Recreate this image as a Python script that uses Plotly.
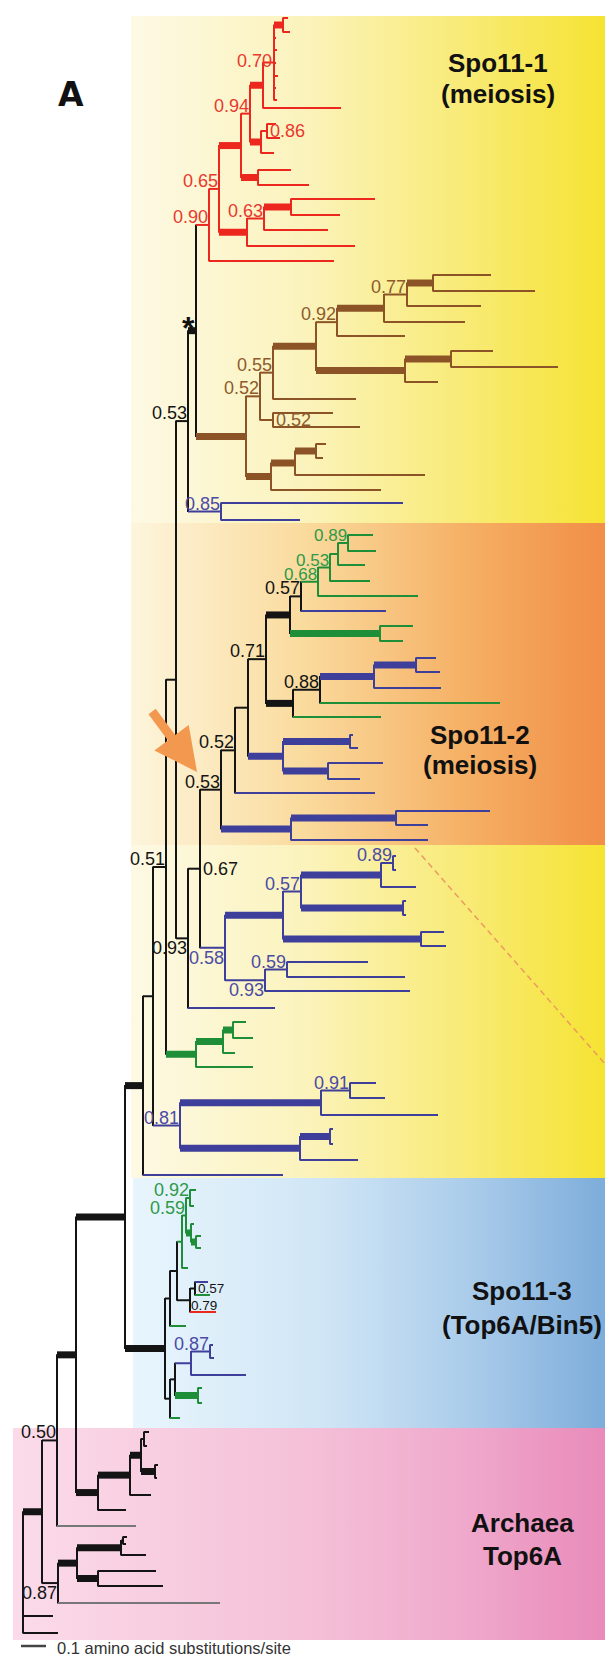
import plotly.graph_objects as go

# ---------------------------------------------------------------------------
# DATA: tree topology, branch lengths (amino acid substitutions/site),
# leaf row positions, clade colour codes and posterior support labels.
# Colour codes: k black, r Spo11-1 red, n brown, b blue, g green, a grey
# ---------------------------------------------------------------------------
def N(bl, c, kids, thick=False, lab=None, pos='above', fs=18):
    return {'bl': bl, 'c': c, 'kids': kids, 'thick': thick, 'lab': lab, 'pos': pos, 'fs': fs}


def L(y, bl, c):
    return {'bl': bl, 'c': c, 'y': y, 'thick': False, 'lab': None}


# ---- Spo11-1 (red) ----
SPO11_1 = N(0.052, 'r', [
    N(0.040, 'r', [
        N(0.088, 'r', [
            N(0.036, 'r', [
                N(0.052, 'r', [
                    N(0.044, 'r', [
                        N(0.036, 'r', [L(10, 0.020, 'r'), L(24, 0.028, 'r')], thick=True),
                        L(30, 0.008, 'r'), L(42, 0.012, 'r'), L(55, 0.008, 'r'),
                        L(68, 0.016, 'r'), L(80, 0.008, 'r'), L(92, 0.012, 'r'),
                    ], lab='0.70', pos='left'),
                    L(100, 0.312, 'r'),
                ], thick=True),
                N(0.044, 'r', [
                    N(0.024, 'r', [L(116, 0.036, 'r'), L(130, 0.052, 'r')], lab='0.86', pos='right'),
                    L(145, 0.052, 'r'),
                ], thick=True),
            ], lab='0.94'),
            N(0.068, 'r', [L(162, 0.132, 'r'), L(177, 0.204, 'r')], thick=True),
        ], thick=True),
        N(0.112, 'r', [
            N(0.068, 'r', [
                N(0.108, 'r', [L(191, 0.336, 'r'), L(207, 0.196, 'r')], thick=True),
                L(222, 0.256, 'r'),
            ], lab='0.63'),
            L(238, 0.432, 'r'),
        ], thick=True),
    ], lab='0.65'),
    L(253, 0.500, 'r'),
], lab='0.90')

# ---- brown clade ----
BROWN = N(0.200, 'n', [
    N(0.056, 'n', [
        N(0.052, 'n', [
            N(0.172, 'n', [
                N(0.084, 'n', [
                    N(0.188, 'n', [
                        N(0.092, 'n', [
                            N(0.104, 'n', [L(267, 0.232, 'n'), L(283, 0.408, 'n')], thick=True),
                            L(298, 0.296, 'n'),
                        ], lab='0.77'),
                        L(314, 0.324, 'n'),
                    ], thick=True),
                    L(328, 0.272, 'n'),
                ], lab='0.92'),
                N(0.356, 'n', [
                    N(0.184, 'n', [L(343, 0.168, 'n'), L(359, 0.428, 'n')], thick=True),
                    L(374, 0.132, 'n'),
                ], thick=True),
            ], thick=True),
            L(391, 0.332, 'n'),
        ], lab='0.55'),
        N(0.052, 'n', [L(405, 0.240, 'n'), L(419, 0.348, 'n')], lab='0.52', pos='right'),
    ], lab='0.52'),
    N(0.100, 'n', [
        N(0.096, 'n', [
            N(0.084, 'n', [L(436, 0.040, 'n'), L(450, 0.028, 'n')], thick=True),
            L(467, 0.520, 'n'),
        ], thick=True),
        L(482, 0.440, 'n'),
    ], thick=True),
], thick=True)

STAR_NODE = N(0.032, 'k', [SPO11_1, BROWN], thick=True, lab='*', pos='star')
BLUE_085 = N(0.132, 'b', [L(495, 0.728, 'b'), L(512, 0.316, 'b')], lab='0.85')
NODE_053 = N(0.048, 'k', [STAR_NODE, BLUE_085], lab='0.53')

# ---- Spo11-2 (meiosis) clade ----
GREEN_SUB = N(0.068, 'g', [
    N(0.048, 'g', [
        N(0.032, 'g', [
            N(0.040, 'g', [L(527, 0.100, 'g'), L(543, 0.112, 'g')], lab='0.89', fs=17),
            L(557, 0.108, 'g'),
        ]),
        L(573, 0.160, 'g'),
    ], lab='0.53', fs=17),
    L(588, 0.400, 'g'),
], lab='0.68', fs=17)

SPO11_2 = N(0.084, 'k', [
    N(0.056, 'k', [
        N(0.052, 'k', [
            N(0.072, 'k', [
                N(0.096, 'k', [
                    N(0.044, 'k', [GREEN_SUB, L(603, 0.340, 'b')], lab='0.57'),
                    N(0.360, 'g', [L(618, 0.132, 'g'), L(633, 0.092, 'g')], thick=True),
                ], thick=True),
                N(0.108, 'k', [
                    N(0.108, 'k', [
                        N(0.216, 'b', [
                            N(0.168, 'b', [L(650, 0.080, 'b'), L(664, 0.096, 'b')], thick=True),
                            L(680, 0.268, 'b'),
                        ], thick=True),
                        L(695, 0.720, 'g'),
                    ], lab='0.88'),
                    L(709, 0.352, 'g'),
                ], thick=True),
            ], lab='0.71'),
            N(0.140, 'b', [
                N(0.268, 'b', [L(727, 0.012, 'b'), L(740, 0.032, 'b')], thick=True),
                N(0.180, 'b', [L(755, 0.220, 'b'), L(771, 0.128, 'b')], thick=True),
            ], thick=True),
        ]),
        L(785, 0.560, 'b'),
    ], lab='0.52'),
    N(0.280, 'b', [
        N(0.420, 'b', [L(803, 0.376, 'b'), L(817, 0.128, 'b')], thick=True),
        L(832, 0.548, 'b'),
    ], thick=True),
], lab='0.53')

BLUE_058 = N(0.100, 'b', [
    N(0.232, 'b', [
        N(0.072, 'b', [
            N(0.320, 'b', [
                N(0.048, 'b', [L(848, 0.012, 'b'), L(862, 0.012, 'b')], lab='0.89'),
                L(879, 0.140, 'b'),
            ], thick=True),
            N(0.408, 'b', [L(893, 0.012, 'b'), L(907, 0.012, 'b')], thick=True),
        ], lab='0.57'),
        N(0.552, 'b', [L(924, 0.092, 'b'), L(938, 0.100, 'b')], thick=True),
    ], thick=True),
    N(0.160, 'b', [
        N(0.088, 'b', [L(954, 0.324, 'b'), L(969, 0.472, 'b')], lab='0.59'),
        L(983, 0.580, 'b'),
    ], lab='0.93', pos='below'),
], lab='0.58', pos='below')

NODE_093 = N(0.048, 'k', [
    N(0.048, 'k', [SPO11_2, BLUE_058], lab='0.67', pos='right'),
    L(1000, 0.348, 'b'),
], lab='0.93', pos='below')

GREEN_PLANT = N(0.120, 'g', [
    N(0.108, 'g', [
        N(0.040, 'g', [L(1014, 0.052, 'g'), L(1030, 0.080, 'g')], thick=True),
        L(1045, 0.048, 'g'),
    ], thick=True),
    L(1059, 0.228, 'g'),
], thick=True)

NODE_051 = N(0.052, 'k', [N(0.040, 'k', [NODE_053, NODE_093]), GREEN_PLANT], lab='0.51')

BLUE_081 = N(0.108, 'b', [
    N(0.564, 'b', [
        N(0.116, 'b', [L(1075, 0.104, 'b'), L(1090, 0.140, 'b')], lab='0.91'),
        L(1107, 0.468, 'b'),
    ], thick=True),
    N(0.480, 'b', [
        N(0.120, 'b', [L(1121, 0.012, 'b'), L(1136, 0.012, 'b')], thick=True),
        L(1152, 0.232, 'b'),
    ], thick=True),
], lab='0.81')

SPO11_12 = N(0.072, 'k', [N(0.040, 'k', [NODE_051, BLUE_081]), L(1167, 0.560, 'b')], thick=True)

# ---- Spo11-3 (Top6A/Bin5) ----
SPO11_3 = N(0.160, 'k', [
    N(0.020, 'k', [
        N(0.028, 'k', [
            N(0.020, 'g', [
                N(0.016, 'g', [
                    N(0.016, 'g', [L(1182, 0.024, 'g'), L(1198, 0.016, 'g')], lab='0.92'),
                    N(0.020, 'g', [
                        L(1216, 0.012, 'g'),
                        N(0.020, 'g', [L(1228, 0.020, 'g'), L(1240, 0.020, 'g')], thick=True),
                    ], thick=True),
                ], lab='0.59'),
                L(1260, 0.024, 'g'),
            ]),
            N(0.052, 'k', [
                N(0.020, 'k', [L(1274, 0.052, 'b'), L(1287, 0.060, 'g')], lab='0.57', pos='right', fs=13.5),
                L(1304, 0.104, 'r'),
            ], lab='0.79', pos='rightlow', fs=13.5),
        ]),
        L(1318, 0.064, 'g'),
    ]),
    N(0.020, 'k', [
        N(0.020, 'k', [
            N(0.064, 'b', [
                N(0.076, 'b', [L(1337, 0.012, 'b'), L(1350, 0.016, 'b')], lab='0.87'),
                L(1367, 0.220, 'b'),
            ]),
            N(0.092, 'g', [L(1380, 0.016, 'g'), L(1395, 0.016, 'g')], thick=True),
        ]),
        L(1410, 0.040, 'g'),
    ]),
], thick=True)

# ---- Archaea Top6A ----
ARCHAEA_1 = N(0.088, 'k', [
    N(0.128, 'k', [
        N(0.044, 'k', [
            N(0.012, 'k', [L(1424, 0.020, 'k'), L(1438, 0.012, 'k')]),
            N(0.056, 'k', [L(1457, 0.012, 'k'), L(1470, 0.008, 'k')], thick=True),
        ], thick=True),
        L(1487, 0.084, 'k'),
    ], thick=True),
    L(1502, 0.112, 'k'),
], thick=True)

ARCHAEA_2 = N(0.064, 'k', [
    N(0.076, 'k', [
        N(0.176, 'k', [
            N(0.008, 'k', [L(1529, 0.016, 'k'), L(1536, 0.012, 'k')]),
            L(1547, 0.100, 'k'),
        ], thick=True),
        N(0.084, 'k', [L(1563, 0.232, 'k'), L(1578, 0.260, 'k')], thick=True),
    ], thick=True),
    L(1595, 0.648, 'a'),
], lab='0.87', pos='below')

EUK = N(0.196, 'k', [SPO11_12, SPO11_3], thick=True)
NODE_050 = N(0.060, 'k', [N(0.076, 'k', [EUK, ARCHAEA_1], thick=True), L(1518, 0.316, 'a')], lab='0.50')
ROOT = N(0.0, 'k', [
    N(0.076, 'k', [NODE_050, ARCHAEA_2], thick=True),
    L(1608, 0.120, 'k'),
    L(1625, 0.140, 'k'),
])

CLADE_NAMES = [('Spo11-1', '(meiosis)'), ('Spo11-2', '(meiosis)'),
               ('Spo11-3', '(Top6A/Bin5)'), ('Archaea', 'Top6A')]
SCALE_BAR_LEN = 0.1
SCALE_TEXT = '0.1 amino acid substitutions/site'

# ---------------------------------------------------------------------------
# STYLE / LAYOUT
# ---------------------------------------------------------------------------
W, H = 613, 1655
ROOT_PX = 15.0
PX_PER_UNIT = 250.0
FONT = 'Liberation Sans, Arial, sans-serif'

LINE_COL = {'k': '#141414', 'r': '#ec281e', 'n': '#8c5426', 'b': '#3e3e9b', 'g': '#1e8e38', 'a': '#777777'}
LAB_COL = {'k': '#141414', 'r': '#e8392f', 'n': '#8e5a2c', 'b': '#4b4ba6', 'g': '#2e9a48', 'a': '#555555'}
THIN, THICK = 2.0, 7.0


def xd(px):
    return (px - ROOT_PX) / PX_PER_UNIT


def place(n, x0):
    n['x'] = x0 + n['bl']
    if 'kids' in n:
        for k in n['kids']:
            place(k, n['x'])
        n['y'] = (n['kids'][0]['y'] + n['kids'][-1]['y']) / 2.0


place(ROOT, 0.0)

segs = {}


def add(key, x0, y0, x1, y1):
    xs, ys = segs.setdefault(key, ([], []))
    xs += [x0, x1, None]
    ys += [y0, y1, None]


nodes = []


def walk(n):
    nodes.append(n)
    if 'kids' in n:
        ys = [k['y'] for k in n['kids']]
        add((n['c'], THIN), n['x'], min(ys) - 0.5, n['x'], max(ys) + 0.5)
        for k in n['kids']:
            add((k['c'], THICK if k['thick'] else THIN), n['x'], k['y'], k['x'], k['y'])
            walk(k)


walk(ROOT)

fig = go.Figure()

# background panels (gradient bands)
PANELS = [
    (123, 613, 8, 1170, [[0, '#fdf9e4'], [0.35, '#fbf3bd'], [0.7, '#f8ea72'], [1, '#f5e22a']]),
    (123, 613, 515, 837, [[0, '#fdf5dc'], [0.35, '#fadb9e'], [0.7, '#f5ae62'], [1, '#f18a44']]),
    (125, 613, 1170, 1420, [[0, '#e8f5fd'], [0.4, '#cfe5f5'], [0.7, '#a9cbea'], [1, '#78a9d8']]),
    (5, 613, 1420, 1632, [[0, '#fbdbe9'], [0.5, '#f4bfd7'], [0.75, '#efa8cb'], [1, '#e887b8']]),
]
for x0, x1, y0, y1, cs in PANELS:
    fig.add_trace(go.Scatter(
        x=[xd(x0), xd(x1), xd(x1), xd(x0), xd(x0)], y=[y0, y0, y1, y1, y0],
        mode='none', fill='toself', fillgradient=dict(type='horizontal', colorscale=cs),
        hoverinfo='skip', showlegend=False))

for key in sorted(segs, key=lambda k: k[1]):
    c, w = key
    xs, ys = segs[key]
    fig.add_trace(go.Scatter(x=xs, y=ys, mode='lines',
                             line=dict(color=LINE_COL[c], width=w),
                             hoverinfo='skip', showlegend=False))

ann = []
for n in nodes:
    if not n.get('lab'):
        continue
    pos = n['pos']
    d = dict(x=n['x'], y=n['y'], text=n['lab'], showarrow=False,
             font=dict(family=FONT, size=n['fs'], color=LAB_COL[n['c']]), borderpad=0)
    if pos == 'above':
        d.update(xanchor='right', yanchor='bottom', yshift=-3)
    elif pos == 'below':
        d.update(xanchor='right', yanchor='top', yshift=1)
    elif pos == 'right':
        d.update(xanchor='left', yanchor='middle', xshift=2)
    elif pos == 'rightlow':
        d.update(xanchor='left', yanchor='middle', xshift=0, yshift=-5)
    elif pos == 'left':
        d.update(xanchor='right', yanchor='middle', xshift=-1, yshift=2)
    elif pos == 'star':
        d.update(xanchor='right', yanchor='bottom', yshift=-16,
                 font=dict(family=FONT, size=32, color='#111111'), text='<b>*</b>')
    ann.append(d)

# clade names
CLADE_POS = [(490, 55, 86), (472, 727, 757), (514, 1283, 1317), (514, 1515, 1548)]
for (l1, l2), (cx, y1, y2) in zip(CLADE_NAMES, CLADE_POS):
    for t, yy in ((l1, y1), (l2, y2)):
        ann.append(dict(x=xd(cx), y=yy, text='<b>' + t + '</b>', showarrow=False,
                        xanchor='center', yanchor='middle',
                        font=dict(family=FONT, size=26, color='#111111')))

# panel letter
ann.append(dict(x=xd(63), y=86, text='<b>A</b>', showarrow=False, xanchor='center', yanchor='middle',
                font=dict(family='DejaVu Sans, ' + FONT, size=33, color='#111111')))

# orange arrow pointing to the Spo11-2 node
ann.append(dict(x=xd(189), y=764, ax=xd(143), ay=702, axref='x', ayref='y', text='',
                showarrow=True, arrowhead=2, arrowsize=0.95, arrowwidth=9, arrowcolor='#f3984f',
                standoff=0))

# scale bar text
ann.append(dict(x=xd(47), y=1640, text=SCALE_TEXT, showarrow=False, xanchor='left', yanchor='middle',
                font=dict(family=FONT, size=16.5, color='#333333')))

shapes = [
    dict(type='line', xref='x', yref='y', x0=xd(13), x1=xd(13) + SCALE_BAR_LEN, y0=1638, y1=1638,
         line=dict(color='#444444', width=2.5)),
    dict(type='line', xref='x', yref='y', x0=xd(407), y0=840, x1=xd(613), y1=1074,
         line=dict(color='#ec9a5e', width=1.5, dash='6px,4px')),
]

fig.update_layout(
    width=W, height=H, margin=dict(l=0, r=0, t=0, b=0),
    paper_bgcolor='white', plot_bgcolor='white',
    xaxis=dict(range=[xd(0), xd(W)], visible=False, showgrid=False, zeroline=False),
    yaxis=dict(range=[H, 0], visible=False, showgrid=False, zeroline=False),
    annotations=ann, shapes=shapes, showlegend=False,
)

fig.write_html('out.html')
